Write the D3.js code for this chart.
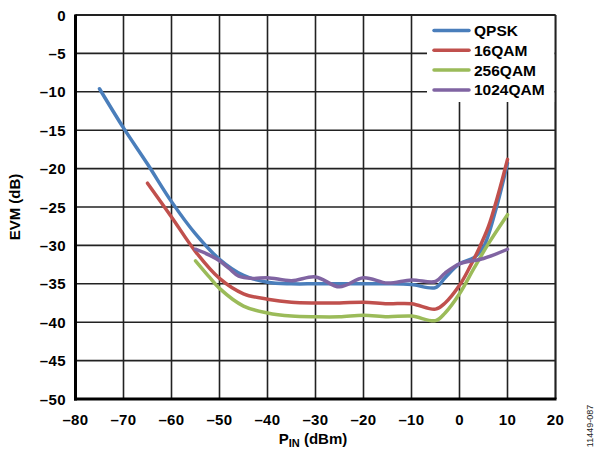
<!DOCTYPE html>
<html><head><meta charset="utf-8">
<script src="https://cdn.jsdelivr.net/npm/d3@7"></script>
<style>
html,body{margin:0;padding:0;background:#fff;}
svg{display:block;font-family:"Liberation Sans",Arial,sans-serif;}
</style></head>
<body>
<svg id="c" width="597" height="454"></svg>
<script>
const xTicks = [-80,-70,-60,-50,-40,-30,-20,-10,0,10,20];
const yTicks = [0,-5,-10,-15,-20,-25,-30,-35,-40,-45,-50];
const seriesNames = ["QPSK","16QAM","256QAM","1024QAM"];
const seriesColors = ["#4A7EBB","#C0504D","#9BBB59","#8064A2"];

const qpskX = [-75,-70,-65,-60,-55,-50,-45,-40,-35,-30,-25,-20,-15,-10,-5,-3,0,3,5,7.5,10];
const qpskY = [-9.6,-14.7,-19.4,-24.3,-28.5,-31.8,-33.9,-34.8,-35,-35,-35,-35,-35,-35.1,-35.5,-34.2,-32.4,-31.6,-30.2,-25.5,-19.3];

const qam16X = [-65,-60,-55,-50,-45,-40,-35,-30,-25,-20,-15,-10,-5,-3,0,2,4,6,8,10];
const qam16Y = [-21.9,-26.3,-30.8,-34.3,-36.3,-37.0,-37.4,-37.5,-37.5,-37.4,-37.6,-37.6,-38.3,-37.5,-35.2,-33,-30.5,-27.6,-23.5,-18.8];

const qam256X = [-55,-52,-50,-45,-40,-35,-30,-25,-20,-15,-10,-5,-3,0,3,6,10];
const qam256Y = [-32.0,-34.2,-35.6,-37.9,-38.8,-39.2,-39.3,-39.3,-39.1,-39.3,-39.2,-39.8,-38.8,-36.3,-33,-29.8,-26.0];

const qam1024X = [-55,-52,-50,-48,-46,-43,-40,-35,-30,-25,-20,-15,-10,-5,-3,0,5,10];
const qam1024Y = [-30.5,-31.3,-32.0,-33.0,-34.0,-34.3,-34.2,-34.6,-34.1,-35.4,-34.2,-34.9,-34.5,-34.7,-33.6,-32.4,-31.7,-30.5];

const seriesX = [qpskX, qam16X, qam256X, qam1024X];
const seriesY = [qpskY, qam16Y, qam256Y, qam1024Y];

const L = 75.5, R = 555.5, T = 15, B = 399;
const x = d3.scaleLinear().domain([-80,20]).range([L,R]);
const y = d3.scaleLinear().domain([-50,0]).range([B,T]);
const svg = d3.select("#c");

// grid
const g = svg.append("g");
g.selectAll("line.v").data(xTicks).enter().append("line")
  .attr("x1",d=>x(d)).attr("x2",d=>x(d)).attr("y1",T).attr("y2",B)
  .attr("stroke","#222").attr("stroke-width",1.6);
g.selectAll("line.h").data(yTicks).enter().append("line")
  .attr("y1",d=>y(d)).attr("y2",d=>y(d)).attr("x1",L).attr("x2",R)
  .attr("stroke","#222").attr("stroke-width",1.6);

// series
const line = d3.line().x(d=>x(d[0])).y(d=>y(d[1])).curve(d3.curveCatmullRom.alpha(0.5));
seriesNames.forEach((n,i)=>{
  const pts = seriesX[i].map((v,j)=>[v, seriesY[i][j]]);
  svg.append("path").attr("d", line(pts)).attr("fill","none")
    .attr("stroke", seriesColors[i]).attr("stroke-width",3.5)
    .attr("stroke-linecap","round").attr("stroke-linejoin","round");
});

// legend
svg.append("rect").attr("x",427).attr("y",T+1).attr("width",R-427-1).attr("height",101-T).attr("fill","#fff");
const lg = svg.append("g");
seriesNames.forEach((n,i)=>{
  const yy = 30.5 + i*19.8;
  lg.append("line").attr("x1",434).attr("x2",469).attr("y1",yy).attr("y2",yy)
    .attr("stroke",seriesColors[i]).attr("stroke-width",3.5).attr("stroke-linecap","round");
  lg.append("text").attr("x",474).attr("y",yy+5.5).text(n)
    .attr("font-size",15.5).attr("font-weight","bold").attr("fill","#000");
});

// axes frame
svg.append("line").attr("x1",L).attr("x2",R).attr("y1",T).attr("y2",T).attr("stroke","#222").attr("stroke-width",1.8);
svg.append("line").attr("x1",R).attr("x2",R).attr("y1",T).attr("y2",B).attr("stroke","#222").attr("stroke-width",1.8);
svg.append("line").attr("x1",L).attr("x2",L).attr("y1",T-0.5).attr("y2",B+1.5).attr("stroke","#000").attr("stroke-width",3);
svg.append("line").attr("x1",L-1.5).attr("x2",R+1).attr("y1",B).attr("y2",B).attr("stroke","#000").attr("stroke-width",3);

const fmt = d => d<0 ? "\u2013"+Math.abs(d) : String(d);
// y tick labels
svg.selectAll("text.yt").data(yTicks).enter().append("text")
  .attr("x",66).attr("y",d=>y(d)+5.5).attr("text-anchor","end")
  .attr("font-size",15).attr("font-weight","bold").attr("letter-spacing",0.4).text(fmt);
// x tick labels
svg.selectAll("text.xt").data(xTicks).enter().append("text")
  .attr("x",d=>x(d)).attr("y",424.5).attr("text-anchor","middle")
  .attr("font-size",15).attr("font-weight","bold").attr("letter-spacing",0.4).text(fmt);

// axis titles
svg.append("text").attr("transform","translate(20,207) rotate(-90)")
  .attr("text-anchor","middle").attr("font-size",15).attr("font-weight","bold").text("EVM (dB)");
const xt = svg.append("text").attr("x",313).attr("y",444).attr("text-anchor","middle")
  .attr("font-size",15).attr("font-weight","bold");
xt.append("tspan").text("P");
xt.append("tspan").attr("font-size",11).attr("dy",3).text("IN");
xt.append("tspan").attr("dy",-3).text(" (dBm)");

svg.append("text").attr("transform","translate(593,426) rotate(-90)")
  .attr("text-anchor","middle").attr("font-size",9).attr("fill","#222").text("11449-087");
</script>
</body></html>
